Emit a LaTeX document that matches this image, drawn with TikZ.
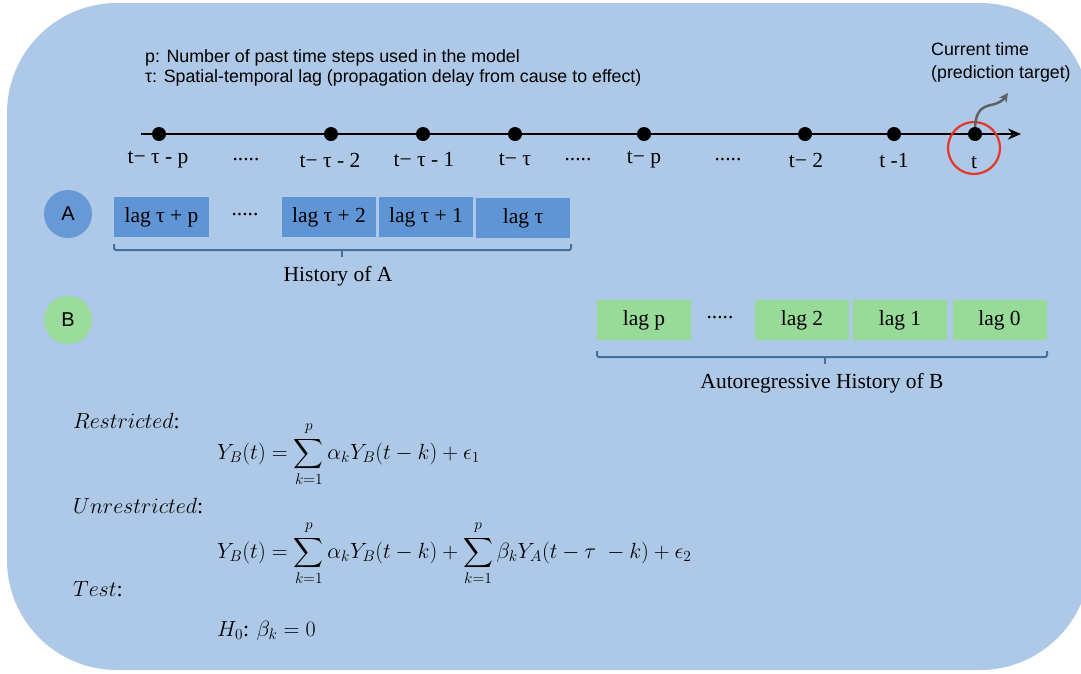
\RequirePackage{fix-cm}
\documentclass[tikz,border=0pt]{standalone}
\usepackage{amsmath}
\usepackage{fontspec}
\setmainfont{Liberation Serif}
\setsansfont{Liberation Sans}
\usetikzlibrary{arrows.meta}
\definecolor{bgc}{HTML}{ADC9E7}
\definecolor{aboxc}{HTML}{6095D5}
\definecolor{acirc}{HTML}{6699D6}
\definecolor{bboxc}{HTML}{98DB98}
\definecolor{bcirc}{HTML}{9ADC9A}
\definecolor{brc}{HTML}{41719C}
\definecolor{redc}{HTML}{E53527}
\definecolor{grayc}{HTML}{606060}
\newcommand{\uplim}{\raisebox{3pt}{$\scriptstyle p$}}
\tikzset{
  abox/.style={fill=aboxc, minimum width=94pt, minimum height=40pt, inner sep=0pt, font=\fontsize{21.5}{24}\selectfont},
  bbox/.style={fill=bboxc, minimum width=94pt, minimum height=40pt, inner sep=0pt, font=\fontsize{21.5}{24}\selectfont},
  tdot/.style={circle, fill=black, minimum size=14pt, inner sep=0pt},
  tlabel/.style={inner sep=0pt, font=\fontsize{21.5}{24}\selectfont},
  sfnote/.style={anchor=west, inner sep=0pt, font=\sffamily\fontsize{17.8}{20}\selectfont},
  circlab/.style={circle, minimum size=48pt, inner sep=0pt, font=\sffamily\fontsize{20}{22}\selectfont},
  bracketline/.style={draw=brc, line width=2pt, rounded corners=2pt},
  eqn/.style={anchor=west, inner sep=0pt, font=\fontsize{22}{26}\selectfont},
}
\begin{document}
\begin{tikzpicture}[x=1pt, y=-1pt]
\useasboundingbox (0,0) rectangle (1081,673);
\fill[bgc, rounded corners=110pt] (7,3) rectangle (1090,670);

% notes
\node[sfnote] (n1) at (145,58) {p: Number of past time steps used in the model};
\node[sfnote] (n2) at (145,78) {τ: Spatial-temporal lag (propagation delay from cause to effect)};
\node[sfnote, align=left, font=\sffamily\fontsize{17.8}{23}\selectfont] (cur) at (931,62) {Current time\\(prediction target)};

% timeline
\coordinate (tl0) at (141,134);
\coordinate (tl1) at (1021,134);
\draw[line width=2.5pt, -{Stealth[length=13pt, width=11pt]}] (tl0) -- (tl1);
\node[tdot] (d1) at (159,134) {};
\node[tdot] (d2) at (331,134) {};
\node[tdot] (d3) at (423,134) {};
\node[tdot] (d4) at (515,134) {};
\node[tdot] (d5) at (644,134) {};
\node[tdot] (d6) at (805,134) {};
\node[tdot] (d7) at (894,134) {};
\node[tdot] (d8) at (975,134) {};

\node[tlabel] (l1) at (158,160) {t− τ - p};
\node[tlabel] (e1) at (246,160) {.....};
\node[tlabel] (l2) at (330,160) {t− τ - 2};
\node[tlabel] (l3) at (424,160) {t− τ - 1};
\node[tlabel] (l4) at (515,160) {t− τ};
\node[tlabel] (e2) at (578,160) {.....};
\node[tlabel] (l5) at (644,160) {t− p};
\node[tlabel] (e3) at (728,160) {.....};
\node[tlabel] (l6) at (806,160) {t− 2};
\node[tlabel] (l7) at (894,161) {t -1};
\node[tlabel] (l8) at (974,163) {t};

\node[circle, draw=redc, line width=2.2pt, minimum size=52pt, inner sep=0pt] (rc) at (974,148) {};
\coordinate (gtip) at (1008,93);
\draw[grayc, line width=2.5pt, -{Stealth[length=9pt, width=9pt]}] (d8.north) .. controls (976,112) and (981,107) .. (991,105) .. controls (1000,103) and (1003,100) .. (gtip);

% A row
\node[circlab, fill=acirc] (ca) at (68,214) {A};
\node[abox, minimum width=95pt] (a1) at (161.5,217) {lag τ + p};
\node[tlabel] (ea) at (245,215) {.....};
\node[abox] (a2) at (329,217) {lag τ + 2};
\node[abox] (a3) at (426,217) {lag τ + 1};
\node[abox] (a4) at (523,218) {lag τ};
\draw[bracketline] (114,244) -- (114,250) -- (571,250) -- (571,244);
\draw[draw=brc, line width=2pt] (342,250) -- (342,257);
\node[tlabel] (ha) at (338,276) {History of A};

% B row
\node[circlab, fill=bcirc] (cb) at (68,320) {B};
\node[bbox] (b1) at (644,320) {lag p};
\node[tlabel] (eb) at (720,318) {.....};
\node[bbox] (b2) at (802,320) {lag 2};
\node[bbox] (b3) at (900,320) {lag 1};
\node[bbox] (b4) at (999.5,320) {lag 0};
\draw[bracketline] (597,351) -- (597,357) -- (1047,357) -- (1047,351);
\draw[draw=brc, line width=2pt] (825,357) -- (825,364);
\node[tlabel] (hb) at (822,383) {Autoregressive History of B};

% equations
\node[eqn] (r) at (73,421) {$Restricted$:};
\node[eqn] (eq1) at (217,454) {$\displaystyle Y_B(t)=\sum_{k=1}^{\uplim}\alpha_k Y_B(t-k)+\epsilon_1$};
\node[eqn] (u) at (73,506) {$Unrestricted$:};
\node[eqn] (eq2) at (217,553) {$\displaystyle Y_B(t)=\sum_{k=1}^{\uplim}\alpha_k Y_B(t-k)+\sum_{k=1}^{\uplim}\beta_k Y_A(t-\tau\;-k)+\epsilon_2$};
\node[eqn] (te) at (73,589) {$Test$:};
\node[eqn] (h0) at (217,631) {$H_0$: $\beta_k=0$};
\end{tikzpicture}
\end{document}
